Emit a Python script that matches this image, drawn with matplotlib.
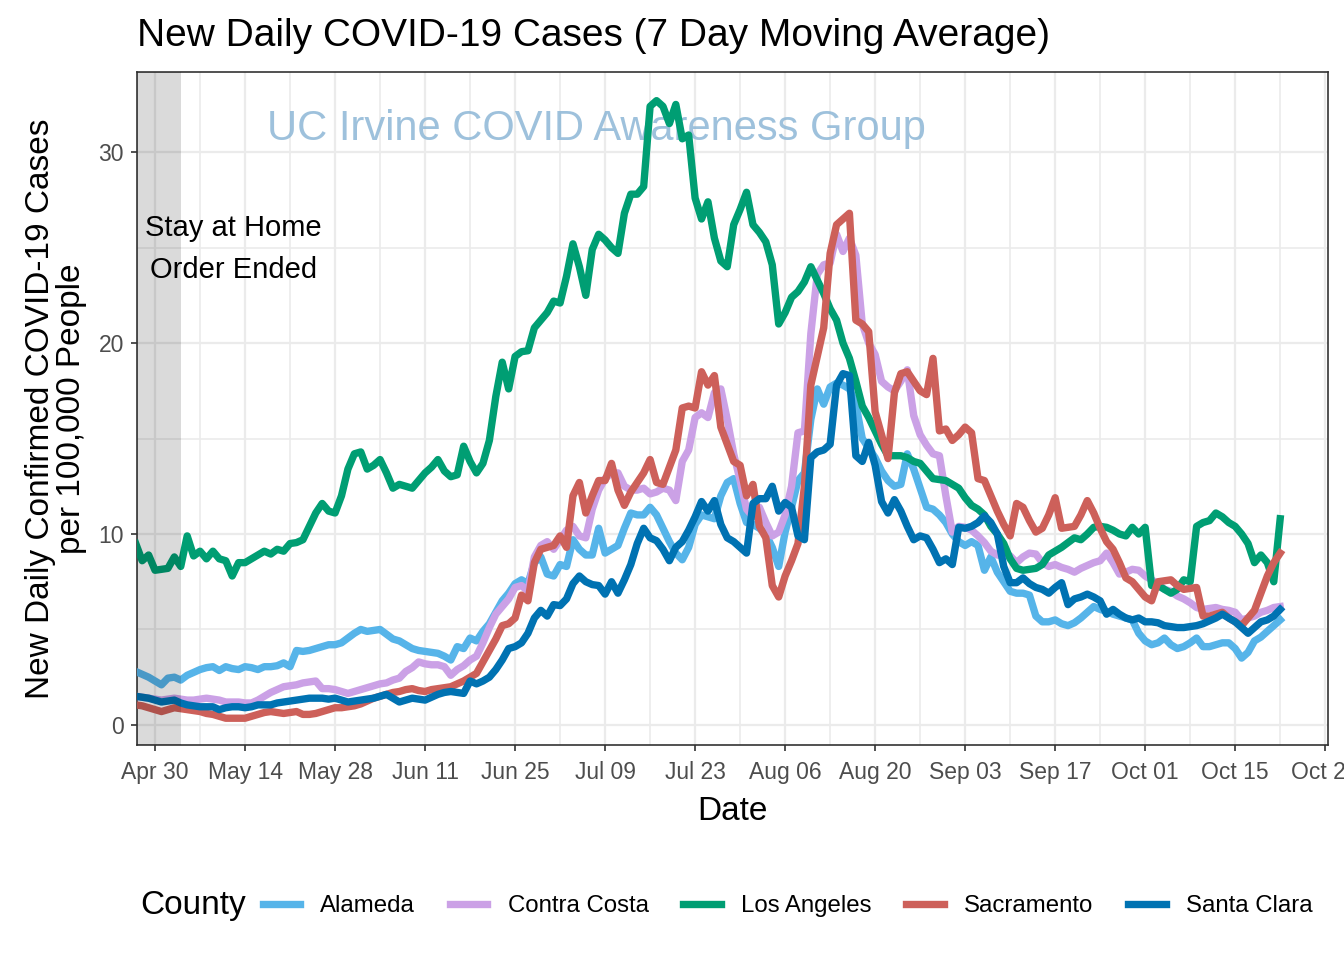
import numpy as np
import pandas as pd
import matplotlib
matplotlib.use("Agg")
import matplotlib.pyplot as plt
import matplotlib.dates as mdates
from matplotlib.ticker import MultipleLocator

plt.rcParams['font.family'] = ['Liberation Sans', 'DejaVu Sans']

# daily 7-day averages, Apr 27 - Oct 22 2020
dates = pd.date_range("2020-04-27", "2020-10-22", freq="D")

alameda = [
    2.8, 2.65, 2.5, 2.3, 2.1, 2.45, 2.5, 2.35, 2.6, 2.75,
    2.9, 3.0, 3.05, 2.85, 3.05, 2.95, 2.9, 3.05, 3.0, 2.9,
    3.05, 3.05, 3.1, 3.25, 3.05, 3.9, 3.85, 3.9, 4.0, 4.1,
    4.2, 4.2, 4.3, 4.55, 4.8, 5.0, 4.9, 4.95, 5.0, 4.75,
    4.5, 4.4, 4.2, 4.0, 3.9, 3.85, 3.8, 3.75, 3.6, 3.4,
    4.1, 4.0, 4.55, 4.4, 4.9, 5.3, 5.9, 6.5, 6.9, 7.4,
    7.6, 7.4, 8.5, 8.8, 7.9, 7.8, 8.4, 8.3, 9.7, 9.2,
    8.9, 8.9, 10.3, 9.0, 9.2, 9.4, 10.3, 11.1, 11.0, 11.0,
    11.4, 11.0, 10.3, 9.6, 9.0, 8.65, 9.3, 10.5, 11.0, 10.9,
    10.8, 12.0, 12.7, 12.9, 11.6, 10.6, 10.5, 10.3, 10.0, 9.3,
    8.3, 10.1, 11.4, 12.8, 13.2, 16.0, 17.6, 16.8, 17.7, 17.9,
    17.8, 17.6, 16.8, 15.0, 14.5, 14.0, 13.3, 12.8, 12.5, 12.6,
    14.2, 13.4, 12.4, 11.4, 11.3, 11.0, 10.6, 10.0, 9.6, 9.4,
    9.6, 9.4, 8.1, 8.8, 8.0, 7.5, 7.0, 6.9, 6.9, 6.8,
    5.7, 5.4, 5.4, 5.5, 5.3, 5.2, 5.35, 5.6, 5.9, 6.2,
    6.05, 5.95, 5.8, 5.7, 5.6, 5.5, 4.8, 4.4, 4.2, 4.3,
    4.55, 4.2, 4.0, 4.1, 4.3, 4.55, 4.1, 4.1, 4.2, 4.3,
    4.3, 4.0, 3.5, 3.8, 4.4, 4.6, 4.9, 5.2, 5.5,
]

contra_costa = [
    1.5, 1.45, 1.4, 1.35, 1.3, 1.35, 1.4, 1.35, 1.3, 1.3,
    1.35, 1.4, 1.35, 1.3, 1.2, 1.2, 1.2, 1.15, 1.15, 1.3,
    1.5, 1.7, 1.85, 2.0, 2.05, 2.1, 2.2, 2.25, 2.3, 1.9,
    1.9, 1.85, 1.75, 1.65, 1.75, 1.85, 1.95, 2.05, 2.15, 2.2,
    2.35, 2.45, 2.8, 3.0, 3.3, 3.2, 3.15, 3.15, 3.05, 2.6,
    2.9, 3.1, 3.4, 3.6, 4.3, 5.1, 5.8, 6.2, 6.6, 7.2,
    7.3, 7.0, 8.8, 9.4, 9.6, 9.2, 9.7, 10.2, 10.4, 9.9,
    9.8, 11.3, 12.3, 12.9, 13.2, 13.2, 12.5, 12.3, 12.3, 12.4,
    12.1, 12.2, 12.4, 12.3, 11.75, 13.8, 14.4, 16.1, 16.35, 16.1,
    17.4, 17.6, 16.0, 14.2, 12.8, 11.3, 10.9, 11.4, 10.6, 9.9,
    10.1, 11.0, 12.5, 15.3, 15.4, 20.5, 23.6, 24.1, 24.2, 25.7,
    24.8, 25.5, 24.6, 21.0, 20.0, 19.4, 18.0, 17.7, 17.5, 18.0,
    18.6, 16.2, 15.2, 14.65, 14.2, 14.1, 12.0, 10.1, 10.4, 10.35,
    10.2, 9.9, 9.55, 9.1, 8.9, 8.85, 8.85, 8.5, 8.8, 9.0,
    8.95, 8.5, 8.3, 8.4, 8.25, 8.15, 8.0, 8.2, 8.35, 8.5,
    8.6, 9.0, 8.5, 7.9, 8.0, 8.15, 8.1, 7.8, 7.6, 7.4,
    7.1, 7.0, 6.75, 6.6, 6.4, 6.15, 6.05, 6.1, 6.15, 6.05,
    6.0, 5.9, 5.5, 5.6, 5.7, 5.9, 6.0, 6.15, 6.2,
]

los_angeles = [
    9.5, 8.6, 8.9, 8.1, 8.15, 8.2, 8.8, 8.3, 9.9, 8.85,
    9.1, 8.7, 9.1, 8.7, 8.6, 7.8, 8.5, 8.5, 8.7, 8.9,
    9.1, 8.95, 9.2, 9.1, 9.5, 9.55, 9.7, 10.4, 11.1, 11.6,
    11.2, 11.1, 12.0, 13.4, 14.2, 14.3, 13.4, 13.6, 13.9, 13.2,
    12.4, 12.6, 12.5, 12.4, 12.8, 13.2, 13.5, 13.9, 13.3, 13.0,
    13.1, 14.6, 13.8, 13.2, 13.7, 14.9, 17.2, 19.0, 17.6, 19.3,
    19.55, 19.6, 20.8, 21.2, 21.6, 22.2, 22.1, 23.5, 25.2, 24.0,
    22.5, 24.9, 25.7, 25.4, 25.0, 24.7, 26.8, 27.8, 27.8, 28.2,
    32.4, 32.7, 32.4, 31.5, 32.5, 30.7, 30.9, 27.6, 26.5, 27.4,
    25.5, 24.3, 24.0, 26.2, 27.0, 27.9, 26.2, 25.8, 25.3, 24.1,
    21.0, 21.6, 22.4, 22.7, 23.2, 24.0, 23.3, 22.6, 21.8, 21.2,
    20.0, 19.2, 18.0, 16.7, 16.1, 15.4, 14.7, 14.1, 14.1, 14.1,
    14.0, 13.8, 13.7, 13.3, 12.9, 12.85, 12.8, 12.6, 12.4, 11.9,
    11.5, 11.3, 11.0, 10.4, 10.0, 9.5, 8.7, 8.2, 8.1, 8.15,
    8.2, 8.4, 8.9, 9.1, 9.3, 9.55, 9.8, 9.7, 10.0, 10.35,
    10.4, 10.35, 10.2, 10.0, 9.9, 10.35, 10.0, 10.35, 7.3, 7.3,
    7.1, 6.9, 7.1, 7.6, 7.5, 10.4, 10.6, 10.7, 11.1, 10.9,
    10.6, 10.4, 10.0, 9.5, 8.5, 8.9, 8.5, 7.5, 10.8,
]

sacramento = [
    1.05, 1.0, 0.9, 0.8, 0.7, 0.8, 0.9, 0.85, 0.8, 0.75,
    0.7, 0.6, 0.55, 0.45, 0.35, 0.35, 0.35, 0.35, 0.45, 0.55,
    0.65, 0.7, 0.65, 0.6, 0.65, 0.7, 0.55, 0.55, 0.6, 0.7,
    0.8, 0.9, 0.9, 0.95, 1.0, 1.1, 1.25, 1.4, 1.5, 1.6,
    1.7, 1.75, 1.85, 1.9, 1.8, 1.75, 1.85, 1.9, 1.95, 2.0,
    2.15, 2.3, 2.5, 2.7, 3.3, 3.9, 4.5, 5.2, 5.3, 5.6,
    6.8, 6.5, 8.5, 9.2, 9.3, 9.4, 9.9, 9.3, 12.0, 12.7,
    11.1, 12.0, 12.8, 12.8, 13.7, 12.3, 11.5, 12.2, 12.7, 13.2,
    13.9, 12.7, 12.6, 13.5, 14.4, 16.6, 16.7, 16.6, 18.5, 17.8,
    18.3, 15.6, 14.7, 13.8, 13.6, 12.0, 12.6, 10.4, 9.8, 7.3,
    6.7, 7.8, 8.6, 9.5, 12.5, 17.8, 19.3, 20.8, 24.7, 26.2,
    26.5, 26.8, 21.2, 21.0, 20.6, 16.4, 15.2, 13.95, 17.4, 18.4,
    18.5, 18.0, 17.5, 17.3, 19.2, 15.4, 15.5, 14.9, 15.2, 15.6,
    15.3, 12.9, 12.8, 12.0, 11.2, 10.5, 9.9, 11.6, 11.4, 10.7,
    10.1, 10.3, 11.0, 11.9, 10.3, 10.35, 10.4, 11.0, 11.75, 11.1,
    10.3, 9.6, 9.2, 8.5, 7.7, 7.5, 7.1, 6.7, 6.5, 7.5,
    7.55, 7.6, 7.3, 7.1, 7.15, 7.2, 5.7, 5.7, 5.8, 5.9,
    5.6, 5.4, 5.2, 5.6, 6.0, 6.9, 7.8, 8.5, 9.0,
]

santa_clara = [
    1.5, 1.45, 1.4, 1.3, 1.2, 1.25, 1.3, 1.15, 1.05, 1.0,
    0.95, 0.95, 0.95, 0.8, 0.9, 0.95, 0.95, 0.9, 0.95, 1.05,
    1.05, 1.05, 1.15, 1.2, 1.25, 1.3, 1.35, 1.4, 1.4, 1.4,
    1.35, 1.4, 1.3, 1.2, 1.25, 1.3, 1.35, 1.4, 1.5, 1.6,
    1.4, 1.2, 1.3, 1.4, 1.35, 1.3, 1.45, 1.6, 1.7, 1.75,
    1.7, 1.65, 2.3, 2.15, 2.3, 2.5, 2.9, 3.4, 4.0, 4.1,
    4.3, 4.8, 5.6, 6.0, 5.7, 6.3, 6.25, 6.6, 7.4, 7.8,
    7.5, 7.35, 7.3, 6.85, 7.5, 6.9, 7.6, 8.4, 9.5, 10.3,
    9.8, 9.65, 9.2, 8.6, 9.3, 9.6, 10.2, 10.9, 11.7, 11.2,
    11.75, 10.5, 9.8, 9.6, 9.3, 9.0, 11.6, 11.85, 11.85, 12.5,
    11.2, 11.65, 11.4, 9.9, 9.7, 14.0, 14.3, 14.4, 14.7, 17.8,
    18.4, 18.3, 14.1, 13.8, 14.8, 13.6, 11.7, 11.1, 11.8, 11.2,
    10.4, 9.7, 9.9, 9.8, 9.2, 8.5, 8.7, 8.4, 10.35, 10.3,
    10.4, 10.6, 10.95, 10.6, 10.0, 8.3, 7.45, 7.45, 7.7, 7.4,
    7.2, 7.1, 6.9, 7.2, 7.45, 6.3, 6.6, 6.7, 6.85, 6.7,
    6.5, 5.8, 6.05, 5.8, 5.6, 5.5, 5.6, 5.4, 5.4, 5.35,
    5.2, 5.15, 5.1, 5.1, 5.15, 5.2, 5.3, 5.45, 5.6, 5.8,
    5.6, 5.4, 5.1, 4.8, 5.1, 5.4, 5.5, 5.7, 6.05,
]

counties = ["Alameda", "Contra Costa", "Los Angeles", "Sacramento", "Santa Clara"]
series = [alameda, contra_costa, los_angeles, sacramento, santa_clara]
colors = ["#56B4E9", "#CBA1E6", "#009E73", "#CD605A", "#0072B2"]

fig = plt.figure(figsize=(13.44, 9.6), dpi=100)
ax = fig.add_axes([0.102, 0.224, 0.886, 0.701])

for name, vals, c in zip(counties, series, colors):
    ax.plot(dates, vals, color=c, lw=5.3, label=name, solid_joinstyle='round', zorder=3)

x0 = pd.Timestamp("2020-04-27 05:00")
x1 = pd.Timestamp("2020-10-29 10:00")

# shaded period before the order ended
ax.axvspan(x0, pd.Timestamp("2020-05-04"), color="black", alpha=0.145, lw=0, zorder=4)

ticks = pd.date_range("2020-04-30", "2020-10-29", freq="14D")
minor = pd.date_range("2020-04-23", "2020-10-29", freq="7D")
ax.set_xticks(ticks)
ax.set_xticklabels([t.strftime("%b %d") for t in ticks])
ax.set_xticks(minor, minor=True)
ax.yaxis.set_major_locator(MultipleLocator(10))
ax.yaxis.set_minor_locator(MultipleLocator(5))
ax.set_xlim(x0, x1)
ax.set_ylim(-1.05, 34.2)

ax.grid(which="major", color="#EBEBEB", lw=1.6, zorder=0)
ax.grid(which="minor", color="#EBEBEB", lw=1.2, zorder=0)
ax.set_axisbelow(True)
ax.tick_params(which="major", length=4.5, width=1.2, color="#333333", pad=5,
               labelsize=16.5, labelcolor="#4D4D4D")
ax.tick_params(axis="x", which="major", pad=7)
ax.tick_params(which="minor", length=0)
for s in ax.spines.values():
    s.set_color("#333333")
    s.set_linewidth(1.2)

ax.set_xlabel("Date", fontsize=24, labelpad=9)
ax.set_ylabel("New Daily Confirmed COVID-19 Cases\nper 100,000 People", fontsize=24,
              labelpad=8, linespacing=1.0)
ax.set_title("New Daily COVID-19 Cases (7 Day Moving Average)", fontsize=28,
             loc="left", pad=19)

ax.text(0.386, 0.915, "UC Irvine COVID Awareness Group", transform=ax.transAxes,
        fontsize=30, color="#8DB7D6", alpha=0.85, ha="center", va="center", zorder=2)
ax.text(0.081, 0.737, "Stay at Home\nOrder Ended", transform=ax.transAxes,
        fontsize=21, ha="center", va="center", linespacing=1.6, zorder=5)

handles, labels = ax.get_legend_handles_labels()
fig.legend(handles, labels, loc="center", bbox_to_anchor=(0.586, 0.056), ncol=5,
           frameon=False, fontsize=17.3, handlelength=1.55, handletextpad=0.85,
           columnspacing=1.45)
fig.text(0.104, 0.057, "County", fontsize=24, va="center", ha="left")

fig.savefig("out.png", dpi=100)
